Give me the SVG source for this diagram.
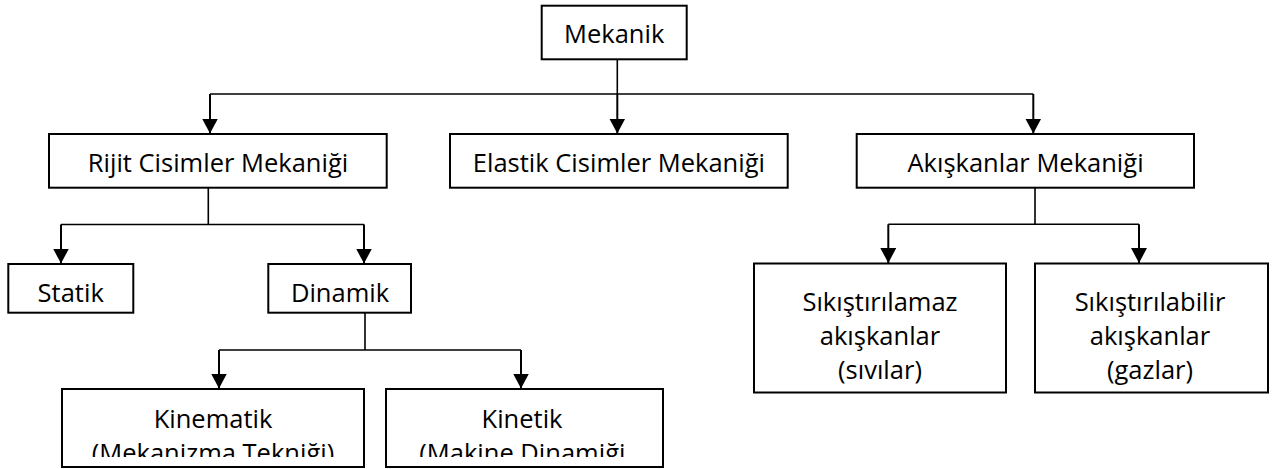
<svg xmlns="http://www.w3.org/2000/svg" width="1285" height="469" viewBox="0 0 1285 469">
<style>
.box{fill:#fff;stroke:#000;stroke-width:2}
.t{font-family:"Open Sans","Noto Sans","Liberation Sans",sans-serif;font-size:25.5px;fill:#000;text-anchor:middle}
.ln{fill:none;stroke:#000;stroke-width:1.6}
.ar{fill:none;stroke:#000;stroke-width:2;marker-end:url(#ah)}
</style>
<defs>
<marker id="ah" viewBox="0 0 15 16" refX="15" refY="8" markerWidth="15" markerHeight="16" markerUnits="userSpaceOnUse" orient="auto">
<path d="M0,0 L15,8 L0,16 Z" fill="#000"/>
</marker>
<clipPath id="clipKm"><rect x="62" y="389" width="302" height="68"/></clipPath>
<clipPath id="clipKt"><rect x="386" y="389" width="277" height="68"/></clipPath>
</defs>
<g id="connectors">
<path class="ln" d="M617.3,59.3 V94 M210,94 H1033.3"/>
<path class="ar" d="M210,94 V133.5"/>
<path class="ar" d="M617.3,94 V133.5"/>
<path class="ar" d="M1033.3,94 V133.5"/>
<path class="ln" d="M208.3,187.7 V224.5 M61,224.5 H364"/>
<path class="ar" d="M61,224.5 V263.5"/>
<path class="ar" d="M364,224.5 V263.5"/>
<path class="ln" d="M365,312.7 V350 M219,350 H521"/>
<path class="ar" d="M219,350 V388.5"/>
<path class="ar" d="M521,350 V388.5"/>
<path class="ln" d="M1035,187.7 V224.3 M888.3,224.3 H1139"/>
<path class="ar" d="M888.3,224.3 V263"/>
<path class="ar" d="M1139,224.3 V263"/>
</g>
<g id="mekanik"><rect class="box" x="541.7" y="5.7" width="145" height="53.6"/><text class="t" x="614.2" y="43">Mekanik</text></g>
<g id="rijit"><rect class="box" x="49" y="134" width="337.7" height="53.7"/><text class="t" x="218" y="171.7">Rijit Cisimler Mekaniği</text></g>
<g id="elastik"><rect class="box" x="450" y="134" width="337.7" height="53.7"/><text class="t" x="618.9" y="171.7">Elastik Cisimler Mekaniği</text></g>
<g id="akiskanlar"><rect class="box" x="856.7" y="134" width="337.3" height="53.7"/><text class="t" x="1025.5" y="171.7">Akışkanlar Mekaniği</text></g>
<g id="statik"><rect class="box" x="8.3" y="264" width="125" height="48.7"/><text class="t" x="70.7" y="301.7">Statik</text></g>
<g id="dinamik"><rect class="box" x="268.3" y="264" width="142.7" height="48.7"/><text class="t" x="340" y="301.7">Dinamik</text></g>
<g id="kinematik"><rect class="box" x="62" y="389" width="302" height="78"/><text class="t" x="213" y="428">Kinematik</text><text class="t" x="213" y="462" clip-path="url(#clipKm)">(Mekanizma Tekniği)</text></g>
<g id="kinetik"><rect class="box" x="386" y="389" width="277" height="78"/><text class="t" x="522" y="428">Kinetik</text><text class="t" x="419.3" y="462" style="text-anchor:start" clip-path="url(#clipKt)">(Makine Dinamiği</text></g>
<g id="sikistirilamaz"><rect class="box" x="754" y="263.5" width="252" height="129"/><text class="t" x="880" y="311">Sıkıştırılamaz</text><text class="t" x="880" y="345">akışkanlar</text><text class="t" x="880" y="379">(sıvılar)</text></g>
<g id="sikistirilabilir"><rect class="box" x="1035" y="263.5" width="233" height="129"/><text class="t" x="1150" y="311">Sıkıştırılabilir</text><text class="t" x="1150" y="345">akışkanlar</text><text class="t" x="1150" y="379">(gazlar)</text></g>
</svg>
